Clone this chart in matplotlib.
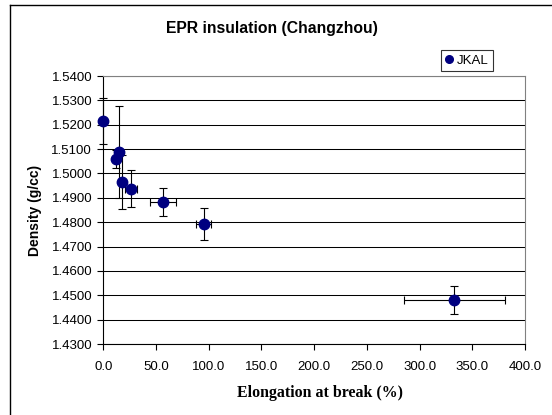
import matplotlib
matplotlib.use("Agg")
import matplotlib.pyplot as plt
from matplotlib.lines import Line2D
from matplotlib.ticker import FormatStrFormatter, MultipleLocator

# elongation at break (%) and density (g/cc)
elongation = [0.0, 15.2, 11.8, 18.0, 26.3, 56.6, 95.5, 333.0]
elong_err = [0.0, 0.0, 0.0, 0.0, 6.0, 12.2, 7.1, 48.0]
density = [1.5215, 1.5089, 1.5060, 1.4964, 1.4938, 1.4883, 1.4791, 1.4481]
density_err = [0.0096, 0.0188, 0.0036, 0.0111, 0.0076, 0.0057, 0.0066, 0.0058]
series_name = "JKAL"

plt.rcParams['font.family'] = ['Liberation Sans', 'DejaVu Sans']

fig = plt.figure(figsize=(5.52, 4.15), dpi=100)
ax = fig.add_axes([103.3 / 552, 1 - 344 / 415, (525 - 103.3) / 552, (344 - 76) / 415])

# outer chart frame (only top and left are inside the picture)
fig.add_artist(Line2D([9.5 / 552, 9.5 / 552], [0, 1 - 5.5 / 415], color='black', lw=1.0))
fig.add_artist(Line2D([9.5 / 552, 1], [1 - 5.5 / 415, 1 - 5.5 / 415], color='black', lw=1.0))

ax.errorbar(elongation, density, xerr=elong_err, yerr=density_err,
            fmt='o', color='#000080', markersize=7.5, ecolor='black',
            elinewidth=0.8, capsize=3, capthick=0.8, zorder=3, clip_on=False)

ax.set_xlim(0, 400)
ax.set_ylim(1.43, 1.54)
ax.xaxis.set_major_locator(MultipleLocator(50))
ax.yaxis.set_major_locator(MultipleLocator(0.01))
ax.xaxis.set_major_formatter(FormatStrFormatter('%.1f'))
ax.yaxis.set_major_formatter(FormatStrFormatter('%.4f'))
ax.tick_params(axis='both', labelsize=9.5, direction='out', length=4, width=0.8, colors='black')
ax.tick_params(axis='x', pad=8)
ax.tick_params(axis='y', pad=4)
ax.grid(axis='y', color='black', linewidth=0.75)
ax.set_axisbelow(True)

for s in ['top', 'right']:
    ax.spines[s].set_color('#808080')
    ax.spines[s].set_linewidth(0.8)
for s in ['left', 'bottom']:
    ax.spines[s].set_color('black')
    ax.spines[s].set_linewidth(0.8)

fig.text(272 / 552, 1 - 28 / 415, "EPR insulation (Changzhou)", ha='center', va='center',
         fontsize=11.3, fontweight='bold')
ax.set_ylabel("Density (g/cc)", fontsize=10, fontweight='bold', labelpad=7)
ax.set_xlabel("Elongation at break (%)", fontsize=11.4, fontweight='bold',
              family='Liberation Serif')
ax.xaxis.set_label_coords(0.513, -0.153)

handle = Line2D([], [], marker='o', linestyle='none', color='#000080', markersize=5.5)
leg = fig.legend([handle], [series_name], loc='center', bbox_to_anchor=(467 / 552, 1 - 60.5 / 415),
                 fontsize=9.5, frameon=True, fancybox=False, edgecolor='black',
                 handlelength=0.6, handletextpad=0.3, borderpad=0.3, borderaxespad=0)
leg.get_frame().set_linewidth(0.8)

fig.savefig("out.png", dpi=100)
